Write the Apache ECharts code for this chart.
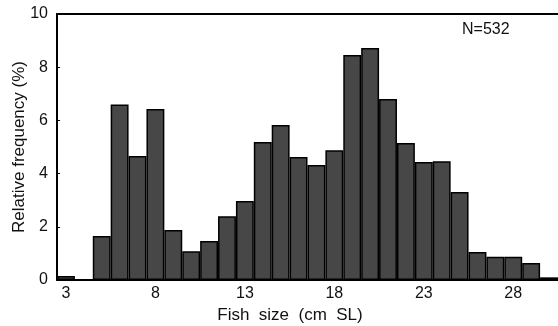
<!DOCTYPE html>
<html>
<head>
<meta charset="utf-8">
<script src="https://cdn.jsdelivr.net/npm/echarts@6/dist/echarts.min.js"></script>
<style>
  html, body { margin: 0; padding: 0; background: #fff; }
  #chart { width: 558px; height: 326px; }
</style>
</head>
<body>
<div id="chart"></div>
<script>
// fish size classes (cm SL), one bar each
const sizes = [3, 4, 5, 6, 7, 8, 9, 10, 11, 12, 13, 14, 15, 16, 17, 18, 19, 20, 21, 22, 23, 24, 25, 26, 27, 28, 29, 30];
const freq = [0.15, 0, 1.65, 6.6, 4.66, 6.43, 1.88, 1.08, 1.47, 2.4, 2.97, 5.19, 5.83, 4.62, 4.32, 4.88, 8.46, 8.72, 6.8, 5.15, 4.44, 4.46, 3.31, 1.05, 0.87, 0.87, 0.64, 0.1];
const yTicks = [0, 2, 4, 6, 8, 10];
const sampleLabel = 'N=532';

const chart = echarts.init(document.getElementById('chart'));
const font = 'Liberation Sans, Arial, sans-serif';

const option = {
  animation: false,
  grid: { left: 57, right: 0, top: 14, bottom: 46, outerBoundsMode: 'none' },
  graphic: [
    {
      type: 'text',
      left: 462,
      top: 22,
      style: { text: sampleLabel, font: '16px ' + font, fill: '#111' }
    }
  ],
  xAxis: [
    {
      type: 'category',
      data: sizes.map(String),
      name: 'Fish  size  (cm  SL)',
      nameLocation: 'middle',
      nameGap: 27,
      nameTextStyle: { fontFamily: font, fontSize: 17, color: '#111', padding: [0, 35, 0, 0] },
      axisLine: { lineStyle: { color: '#000', width: 2 } },
      axisTick: { show: false },
      axisLabel: {
        interval: 4,
        margin: 6,
        fontFamily: font,
        fontSize: 16,
        color: '#111'
      }
    },
    {
      type: 'category',
      position: 'top',
      data: sizes.map(String),
      axisLine: { show: true, lineStyle: { color: '#000', width: 2 } },
      axisTick: { show: false },
      axisLabel: { show: false }
    }
  ],
  yAxis: {
    type: 'value',
    min: yTicks[0],
    max: yTicks[yTicks.length - 1],
    interval: 2,
    name: 'Relative frequency (%)',
    nameLocation: 'middle',
    nameGap: 29,
    nameMoveOverlap: false,
    nameTextStyle: { fontFamily: font, fontSize: 17, color: '#111' },
    axisLine: { show: true, lineStyle: { color: '#000', width: 2 } },
    axisTick: { show: true, inside: true, length: 3, lineStyle: { color: '#000' } },
    axisLabel: { margin: 9, fontFamily: font, fontSize: 16, color: '#111' },
    splitLine: { show: false }
  },
  series: [
    {
      type: 'bar',
      data: freq,
      barCategoryGap: '0%',
      itemStyle: {
        color: '#474747',
        borderColor: '#000',
        borderWidth: 1.5
      }
    }
  ]
};

chart.setOption(option);
</script>
</body>
</html>
